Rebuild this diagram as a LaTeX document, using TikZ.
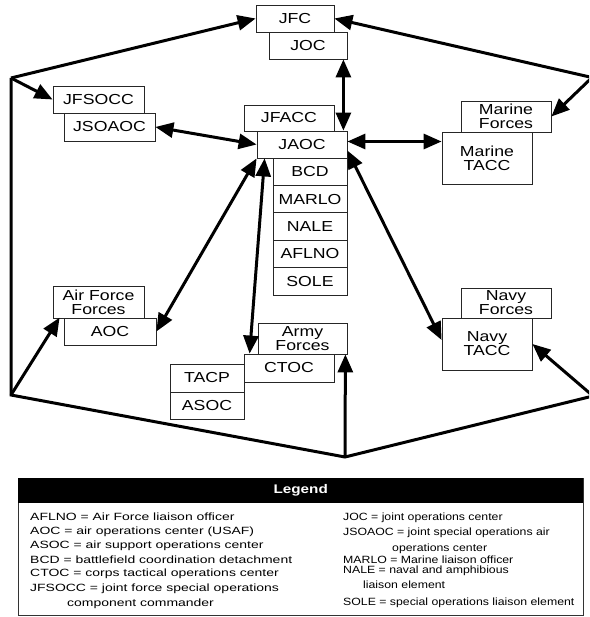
\documentclass[tikz,border=0pt]{standalone}
\usepackage{fontspec}
\usepackage{xcolor}
\usetikzlibrary{arrows.meta}
\setmainfont{Liberation Sans}
\newfontfamily\boxfont[FakeStretch=1.22]{Liberation Sans}
\newfontfamily\legfont[FakeStretch=1.33]{Liberation Sans}
\newfontfamily\legfontr[FakeStretch=1.17]{Liberation Sans}
\tikzset{
	unit/.style={draw=black!85, fill=white, line width=0.8pt, inner sep=0pt, align=center,
		font=\boxfont\fontsize{14.5}{14}\selectfont},
	frame/.style={line width=3pt},
	onehead/.style={-{Triangle[length=18pt,width=15pt]}},
	twohead/.style={{Triangle[length=18pt,width=15pt]}-{Triangle[length=18pt,width=15pt]}},
	legtext/.style={anchor=base west, inner sep=0pt, font=\legfont\fontsize{10.5}{12}\selectfont},
	legtextr/.style={legtext, font=\legfontr\fontsize{10.5}{12}\selectfont}
}
\begin{document}
\begin{tikzpicture}[x=1pt,y=-1pt]
		\useasboundingbox (0,0) rectangle (589,617);
		\clip (0,0) rectangle (589,617);
		\fill[white] (0,0) rectangle (589,617);
		\node[unit, minimum width=78pt, minimum height=27pt] (jfc) at (295,18.5) {JFC};
		\node[unit, minimum width=78pt, minimum height=27pt] (joc) at (308,45.5) {JOC};
		\node[unit, minimum width=91pt, minimum height=27pt] (jfsocc) at (98.5,99.5) {JFSOCC};
		\node[unit, minimum width=91pt, minimum height=28pt] (jsoaoc) at (109.5,127) {JSOAOC};
		\node[unit, minimum width=90pt, minimum height=26pt] (jfacc) at (289,118) {JFACC};
		\node[unit, minimum width=90pt, minimum height=27pt] (jaoc) at (302,144.5) {JAOC};
		\foreach \t [count=\i] in {BCD,MARLO,NALE,AFLNO,SOLE}
			{
				\node[unit, minimum width=74pt, minimum height=27.4pt] (liaison-\i) at (310,{158+27.4*(\i-0.5)}) {\t};
			}
		\node[unit, minimum width=90pt, minimum height=31pt] (marf) at (506,116.5) {Marine\\Forces};
		\node[unit, minimum width=90pt, minimum height=52pt] (martacc) at (487,158) {Marine\\TACC};
		\node[unit, minimum width=91pt, minimum height=32pt] (aff) at (98.5,302) {Air Force\\Forces};
		\node[unit, minimum width=92pt, minimum height=27pt] (aoc) at (110,331.5) {AOC};
		\node[unit, minimum width=89pt, minimum height=31pt] (armyf) at (302.5,338.5) {Army\\Forces};
		\node[unit, minimum width=90pt, minimum height=28pt] (ctoc) at (289,368) {CTOC};
		\node[unit, minimum width=74pt, minimum height=28pt] (tacp) at (207,378) {TACP};
		\node[unit, minimum width=74pt, minimum height=27pt] (asoc) at (207,405.5) {ASOC};
		\node[unit, minimum width=90pt, minimum height=30pt] (navyf) at (506,303) {Navy\\Forces};
		\node[unit, minimum width=90pt, minimum height=52pt] (navytacc) at (487,344) {Navy\\TACC};
		\coordinate (tl) at (11,78);
		\coordinate (bl) at (11,395);
		\coordinate (bot) at (345,457);
		\coordinate (br) at (593,396);
		\coordinate (tr) at (592,77.5);
		\draw[frame] (tr) -- (br) -- (bot) -- (bl) -- (tl);
		\draw[frame,onehead] (tl) -- (jfc.west);
		\draw[frame,onehead] (tl) -- (jfsocc.west);
		\draw[frame,onehead] (tr) -- (jfc.east);
		\draw[frame,onehead] (tr) -- (marf.east);
		\draw[frame,onehead] (bl) -- ([xshift=-4pt]aoc.north west);
		\draw[frame,onehead] (bot) -- ([xshift=-2pt]armyf.south east);
		\draw[frame,onehead] (br) -- (navytacc.east);
		\draw[frame,twohead] ([xshift=-4pt]joc.south east) -- ([xshift=-4pt]jaoc.north east);
		\draw[frame,twohead] (jsoaoc.east) -- (jaoc.west);
		\draw[frame,twohead] ([yshift=3pt]jaoc.east) -- ([yshift=3pt]jaoc.east -| martacc.west);
		\draw[frame,twohead] (jaoc.south west) -- (aoc.east);
		\draw[frame,twohead] ([xshift=8pt]jaoc.south west) -- ([xshift=6pt]ctoc.north west);
		\draw[frame,twohead] ([yshift=-6pt]jaoc.east) -- ([yshift=4pt]navytacc.west);
		\node[draw=black!80, line width=0.8pt, inner sep=0pt, anchor=north west, minimum width=565pt, minimum height=137pt] (legend) at (18,478) {};
		\node[fill=black, text=white, inner sep=0pt, anchor=north west, minimum width=565pt, minimum height=25pt,
			font=\boxfont\bfseries\fontsize{12.5}{14}\selectfont] (legtitle) at (18,478) {Legend};
		\foreach \y/\t [count=\i] in {520/AFLNO = Air Force liaison officer,
			534/AOC = air operations center (USAF),
			548/ASOC = air support operations center,
			563/BCD = battlefield coordination detachment,
			576/CTOC = corps tactical operations center,
			591/JFSOCC = joint force special operations}
			{
				\node[legtext] (leg-l\i) at (30,\y) {\t};
			}
		\node[legtext] (leg-l7) at (67,606) {component commander};
		\foreach \y/\t [count=\i] in {520/JOC = joint operations center,
			535/JSOAOC = joint special operations air,
			563/MARLO = Marine liaison officer,
			573/NALE = naval and amphibious,
			605/SOLE = special operations liaison element}
			{
				\node[legtextr] (leg-r\i) at (343,\y) {\t};
			}
		\node[legtextr] (leg-r6) at (392,551) {operations center};
		\node[legtextr] (leg-r7) at (363,588) {liaison element};
	\end{tikzpicture}
\end{document}
